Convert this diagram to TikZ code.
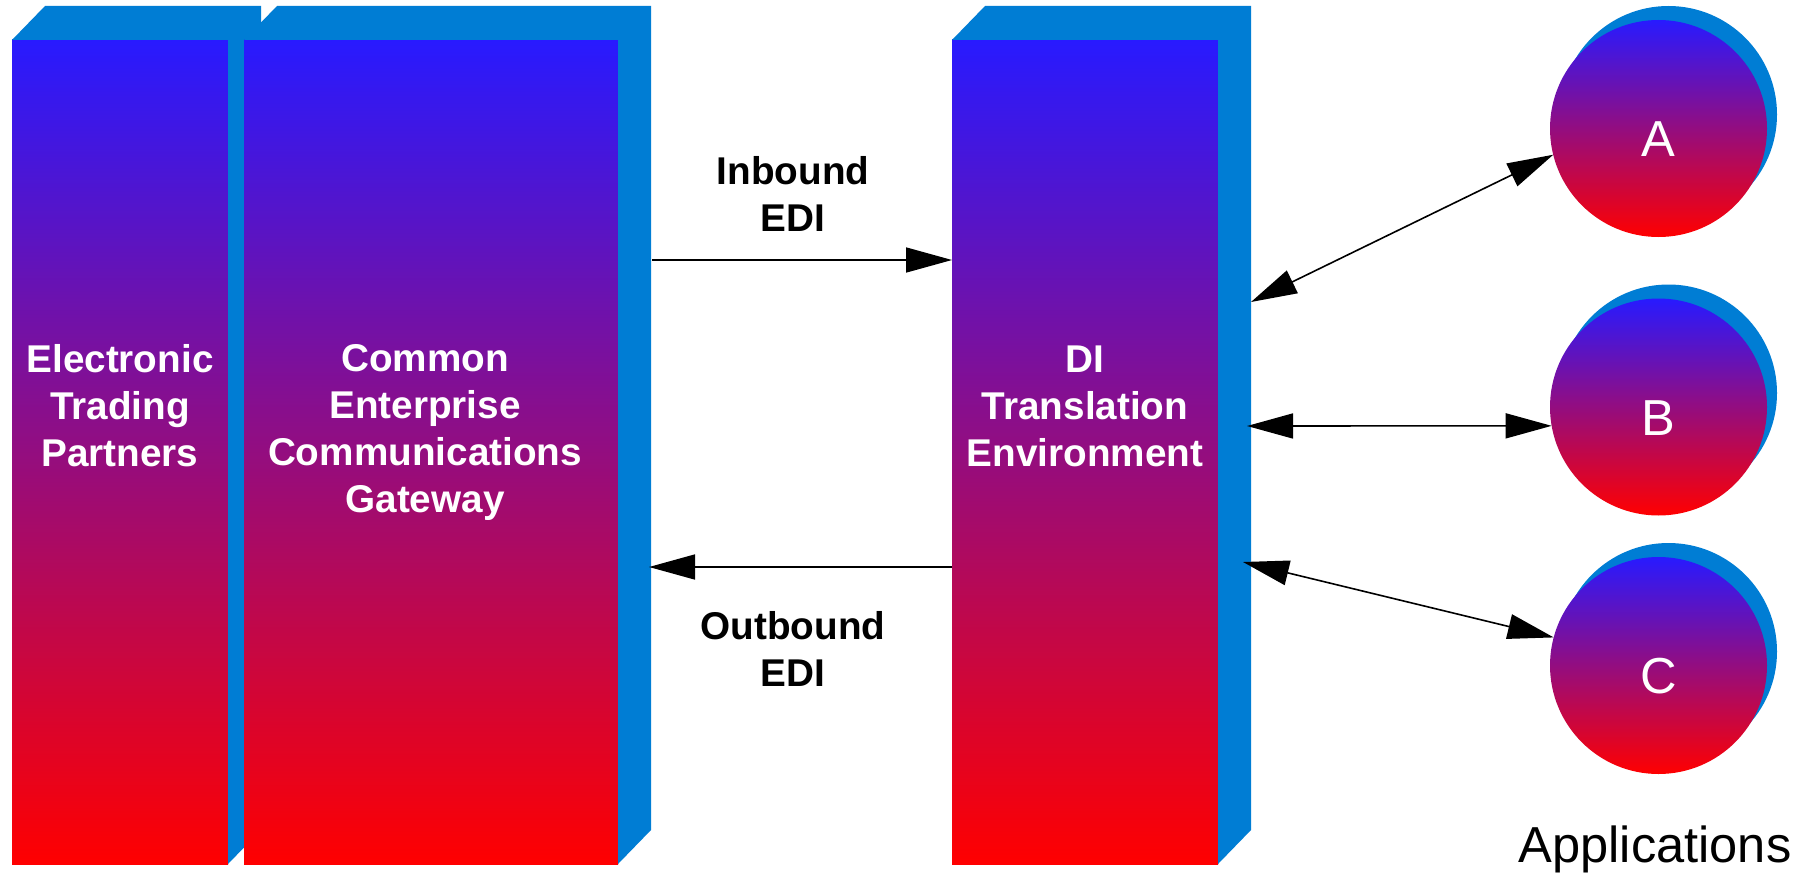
\documentclass[tikz,border=0pt]{standalone}
\usepackage{fontspec}
\setmainfont{Liberation Sans}
\usetikzlibrary{arrows.meta,shadows}
\definecolor{facecol}{RGB}{0,125,212}
\definecolor{gradtop}{RGB}{40,26,255}
\definecolor{gradbot}{RGB}{255,0,0}
\tikzset{bigtri/.tip={Triangle[length=46pt,width=25pt]}}
\begin{document}
\begin{tikzpicture}[x=1pt,y=-1pt,
    front/.style={rectangle, inner sep=0pt, outer sep=0pt, minimum height=824pt, top color=gradtop, bottom color=gradbot},
    face/.style={fill=facecol},
    boxtext/.style={text=white, font=\fontsize{38.7}{47}\selectfont\bfseries, align=center},
    edi/.style={text=black, font=\fontsize{38.7}{47}\selectfont\bfseries, align=center},
    app/.style={circle, inner sep=0pt, outer sep=0pt, minimum size=217pt, top color=gradtop, bottom color=gradbot,
      text=white, font=\fontsize{50.6}{60}\selectfont, text height=56pt,
      general shadow={fill=facecol, shadow xshift=10pt, shadow yshift=14pt}},
    link/.style={line width=1.6pt}]
  \useasboundingbox (0,0) rectangle (1812,875);
  \fill[white] (0,0) rectangle (1812,875);

  \node[front, minimum width=216pt] (etp) at (120,452) {};
  \fill[face] (etp.north west) -- ++(33,-34) -- ([shift={(33,-34)}]etp.north east) -- ([shift={(33,-34)}]etp.south east) -- (etp.south east) -- (etp.north east) -- cycle;
  \node[front, minimum width=374pt] (ceg) at (431,452) {};
  \fill[face] (ceg.north west) -- ++(33,-34) -- ([shift={(33,-34)}]ceg.north east) -- ([shift={(33,-34)}]ceg.south east) -- (ceg.south east) -- (ceg.north east) -- cycle;
  \node[front, minimum width=266pt] (di) at (1085,452) {};
  \fill[face] (di.north west) -- ++(33,-34) -- ([shift={(33,-34)}]di.north east) -- ([shift={(33,-34)}]di.south east) -- (di.south east) -- (di.north east) -- cycle;

  \node[boxtext] (etptext) at ([yshift=46pt]etp.center) {Electronic\\Trading\\Partners};
  \node[boxtext] (cegtext) at ([xshift=-6pt,yshift=20pt]ceg.center) {Common\\Enterprise\\Communications\\Gateway};
  \node[boxtext] (ditext) at ([yshift=46pt]di.center) {DI\\Translation\\Environment};

  \node[app] (appA) at (1658.5,128.5) {A};
  \node[app] (appB) at (1658.5,407) {B};
  \node[app] (appC) at (1658.5,665.5) {C};
  \node[anchor=base, inner sep=0pt, font=\fontsize{50.6}{60}\selectfont] (apps) at (1655,862) {Applications};

  \node[edi] (inedi) at (793,193.5) {Inbound\\EDI};
  \node[edi] (outedi) at (793,648.5) {Outbound\\EDI};

  \coordinate (cegin) at (652,260);
  \coordinate (cegout) at (649,567);
  \coordinate (diA) at (1251,302);
  \coordinate (diB) at (1247,426);
  \coordinate (diC) at (1243,562);
  \draw[link, -bigtri] (cegin) -- (di.west |- cegin);
  \draw[link, -bigtri] (di.west |- cegout) -- (cegout);
  \draw[link, bigtri-bigtri] (diA) -- (appA.194);
  \draw[link, bigtri-bigtri] (diB) -- (appB.190);
  \draw[link, bigtri-bigtri] (diC) -- (appC.165);
\end{tikzpicture}
\end{document}
